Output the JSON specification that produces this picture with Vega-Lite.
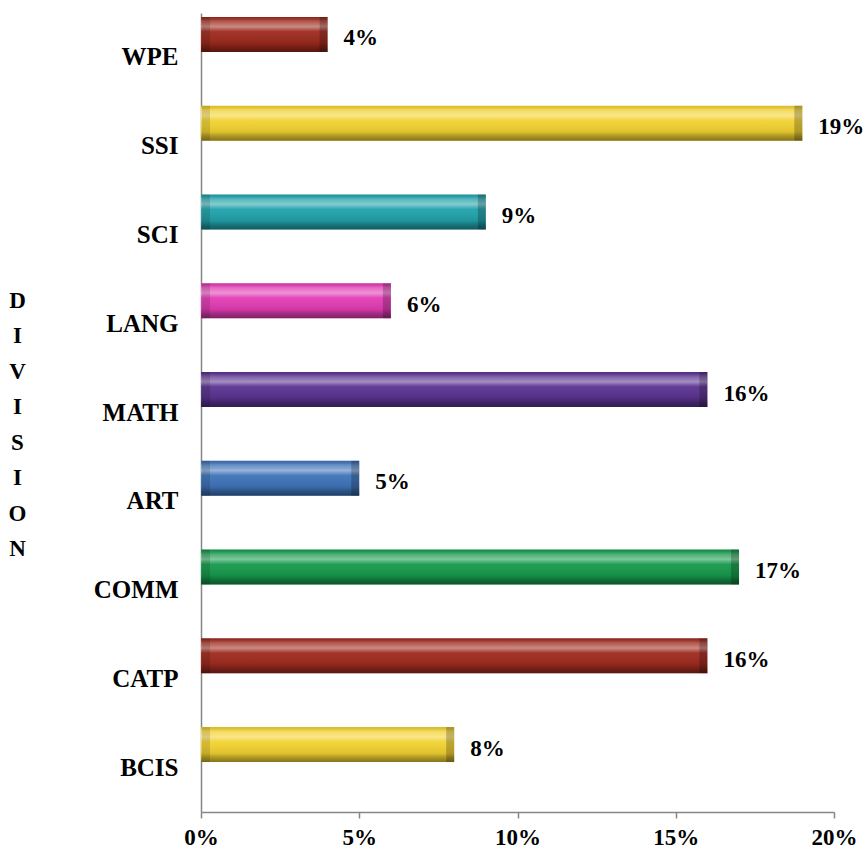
{
  "$schema": "https://vega.github.io/schema/vega-lite/v6.json",
  "autosize": {"type": "none"},
  "padding": {"left": 201, "top": 13, "right": 32, "bottom": 41},
  "width": 633,
  "height": 799,
  "background": "white",
  "config": {
    "view": {"stroke": null},
    "font": "'Liberation Serif', 'Times New Roman', Times, serif",
    "axis": {"grid": false, "domainColor": "#868686", "tickColor": "#868686", "labelFont": "'Liberation Serif', 'Times New Roman', Times, serif", "labelFontWeight": "bold", "labelColor": "#000000", "titleColor": "#000000", "titleFont": "'Liberation Serif', 'Times New Roman', Times, serif", "titleFontWeight": "bold"}
  },
  "data": {
    "values": [
      {"division": "WPE", "share": 0.04},
      {"division": "SSI", "share": 0.19},
      {"division": "SCI", "share": 0.09},
      {"division": "LANG", "share": 0.06},
      {"division": "MATH", "share": 0.16},
      {"division": "ART", "share": 0.05},
      {"division": "COMM", "share": 0.17},
      {"division": "CATP", "share": 0.16},
      {"division": "BCIS", "share": 0.08}
    ]
  },
  "encoding": {
    "y": {
      "field": "division", "type": "nominal", "sort": null,
      "scale": {"paddingInner": 0, "paddingOuter": 0},
      "axis": {
        "ticks": false, "labelPadding": 23, "labelFontSize": 25, "domainWidth": 1.5,
        "title": ["D", "I", "V", "I", "S", "I", "O", "N"],
        "titleAngle": 0, "titleFontSize": 23, "titleLineHeight": 35.5, "titleAlign": "center",
        "titleBaseline": "top", "titleX": -184, "titleY": 276
      }
    },
    "x": {
      "field": "share", "type": "quantitative",
      "scale": {"domain": [0, 0.2], "nice": false},
      "axis": {"format": ".0%", "values": [0, 0.05, 0.1, 0.15, 0.2], "title": null, "tickSize": 6, "tickWidth": 1.5, "domainWidth": 1.5, "labelFontSize": 23, "labelPadding": 8, "labelFlush": false}
    }
  },
  "layer": [
    {
      "mark": {"type": "bar", "height": 35, "yOffset": -23},
      "encoding": {
        "color": {
          "field": "division", "type": "nominal", "legend": null,
          "scale": {
            "domain": ["WPE", "SSI", "SCI", "LANG", "MATH", "ART", "COMM", "CATP", "BCIS"],
            "range": ["#9E2A1E", "#F2D231", "#21A2AB", "#E23CB4", "#5A3290", "#3E73B8", "#16994C", "#9E2A1E", "#F2D231"]
          }
        }
      }
    },
    {
      "mark": {
        "type": "bar", "height": 35, "yOffset": -23,
        "color": {
          "gradient": "linear", "x1": 0, "y1": 0, "x2": 0, "y2": 1,
          "stops": [
            {"offset": 0, "color": "rgba(0,0,0,0.1)"},
            {"offset": 0.12, "color": "rgba(255,255,255,0.2)"},
            {"offset": 0.28, "color": "rgba(255,255,255,0.45)"},
            {"offset": 0.42, "color": "rgba(255,255,255,0.05)"},
            {"offset": 0.75, "color": "rgba(0,0,0,0.08)"},
            {"offset": 0.88, "color": "rgba(0,0,0,0.3)"},
            {"offset": 1, "color": "rgba(0,0,0,0.45)"}
          ]
        }
      }
    },
    {
      "mark": {"type": "tick", "orient": "vertical", "size": 35, "thickness": 8, "yOffset": -23, "xOffset": -4, "color": "#000000", "opacity": 0.22}
    },
    {
      "mark": {"type": "tick", "orient": "vertical", "size": 35, "thickness": 8, "yOffset": -23, "xOffset": 5, "color": "#000000", "opacity": 0.12},
      "encoding": {"x": {"datum": 0}}
    },
    {
      "mark": {"type": "text", "align": "left", "baseline": "middle", "dx": 16, "yOffset": -19, "font": "'Liberation Serif', 'Times New Roman', Times, serif", "fontWeight": "bold", "fontSize": 23, "color": "#000000"},
      "encoding": {"text": {"field": "share", "type": "quantitative", "format": ".0%"}}
    }
  ]
}
